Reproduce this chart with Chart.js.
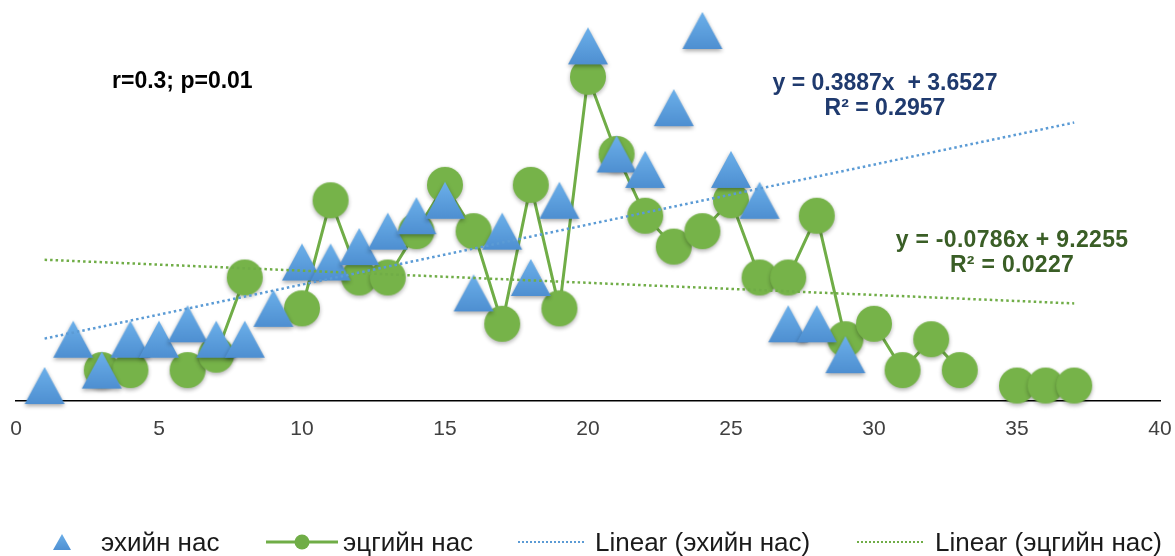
<!DOCTYPE html>
<html>
<head>
<meta charset="utf-8">
<script src="https://cdn.jsdelivr.net/npm/chart.js@4.4.1/dist/chart.umd.min.js"></script>
<style>
body{margin:0;background:#fff;font-family:"Liberation Sans",Arial,sans-serif}
#wrap{position:relative;width:1175px;height:556px;overflow:hidden}
#c{position:absolute;left:0;top:0}
.note{position:absolute;font-weight:bold;white-space:nowrap;font-size:23px;line-height:25px}
.eq{text-align:center;transform:translateX(-50%)}
.lg{position:absolute;top:527px;height:30px;line-height:30px;font-size:26px;color:#1a1a1a;white-space:nowrap}
.ico{position:absolute}
</style>
</head>
<body>
<div id="wrap">
  <canvas id="c" width="1175" height="556"></canvas>

  <div class="note" style="left:112px;top:68px;color:#000">r=0.3; p=0.01</div>
  <div class="note eq" style="left:885px;top:70px;color:#1f3a6e">y = 0.3887x&nbsp; + 3.6527<br>R² = 0.2957</div>
  <div class="note eq" style="left:1012px;top:227px;color:#3a5e26;letter-spacing:0.3px">y = -0.0786x + 9.2255<br>R² = 0.0227</div>

  <!-- legend -->
  <svg class="ico" style="left:52px;top:533px" width="20" height="18">
    <defs><linearGradient id="lgTri" x1="0" y1="0" x2="0" y2="1">
      <stop offset="0" stop-color="#6aaee8"/><stop offset="1" stop-color="#4f90d2"/></linearGradient></defs>
    <polygon points="10,1 19,17 1,17" fill="url(#lgTri)"/>
  </svg>
  <div class="lg" style="left:101px">эхийн нас</div>
  <svg class="ico" style="left:266px;top:533px" width="72" height="18">
    <line x1="0" y1="9" x2="72" y2="9" stroke="#70ad47" stroke-width="3"/>
    <circle cx="36" cy="9" r="7.5" fill="#70ad47"/>
  </svg>
  <div class="lg" style="left:343px">эцгийн нас</div>
  <svg class="ico" style="left:518px;top:533px" width="66" height="18">
    <line x1="0" y1="9" x2="66" y2="9" stroke="#5b9bd5" stroke-width="2" stroke-dasharray="2 2"/>
  </svg>
  <div class="lg" style="left:595px">Linear (эхийн нас)</div>
  <svg class="ico" style="left:857px;top:533px" width="66" height="18">
    <line x1="0" y1="9" x2="66" y2="9" stroke="#70ad47" stroke-width="2" stroke-dasharray="2 2"/>
  </svg>
  <div class="lg" style="left:935px">Linear (эцгийн нас)</div>
</div>

<script>
// x = 1..37, mother / father values (null = no point)
const xs = [1,2,3,4,5,6,7,8,9,10,11,12,13,14,15,16,17,18,19,20,21,22,23,24,25,26,27,28,29,30,31,32,33,34,35,36,37];
const motherVals = [1,4,2,4,4,5,4,4,6,9,9,10,11,12,13,7,11,8,13,23,16,15,19,24,15,13,5,5,3,null,null,null,null,null,null,null,null];
const fatherVals = [null,null,2,2,null,2,3,8,null,6,13,8,8,11,14,11,5,14,6,21,16,12,10,11,13,8,8,12,4,5,2,4,2,null,1,1,1];
const xTicksStep = 5;

const BLUE = '#5b9bd5', GREEN = '#70ad47';

function toPoints(vals) {
  return xs.map((x, i) => ({x: x, y: vals[i]}));
}

// least squares fit over the non-empty points, drawn across the whole x range
function trend(vals) {
  const pts = toPoints(vals).filter(p => p.y != null);
  const n = pts.length;
  const mx = pts.reduce((a,p)=>a+p.x,0)/n, my = pts.reduce((a,p)=>a+p.y,0)/n;
  let sxy=0, sxx=0;
  pts.forEach(p => { sxy += (p.x-mx)*(p.y-my); sxx += (p.x-mx)*(p.x-mx); });
  const b = sxy/sxx, a = my - b*mx;
  const x0 = xs[0], x1 = xs[xs.length-1];
  return [{x:x0, y:a+b*x0}, {x:x1, y:a+b*x1}];
}

function triangleImg() {
  const w = 40, h = 37, pad = 7;
  const cv = document.createElement('canvas');
  cv.width = w + pad*2; cv.height = h + pad*2;
  const ctx = cv.getContext('2d');
  const g = ctx.createLinearGradient(0, pad, 0, pad+h);
  g.addColorStop(0, '#6cb0ea'); g.addColorStop(1, '#4e8fd1');
  ctx.shadowColor = 'rgba(0,0,0,0.35)'; ctx.shadowBlur = 4; ctx.shadowOffsetY = 2;
  ctx.fillStyle = g;
  ctx.beginPath();
  ctx.moveTo(pad + w/2, pad);
  ctx.lineTo(pad + w, pad + h);
  ctx.lineTo(pad, pad + h);
  ctx.closePath();
  ctx.fill();
  return cv;
}

function circleImg() {
  const r = 18, pad = 7;
  const cv = document.createElement('canvas');
  cv.width = cv.height = r*2 + pad*2;
  const ctx = cv.getContext('2d');
  ctx.shadowColor = 'rgba(0,0,0,0.3)'; ctx.shadowBlur = 4; ctx.shadowOffsetY = 2;
  ctx.fillStyle = '#76b349';
  ctx.beginPath();
  ctx.arc(pad + r, pad + r, r, 0, Math.PI*2);
  ctx.fill();
  return cv;
}

Chart.defaults.font.family = '"Liberation Sans", Arial, sans-serif';

new Chart(document.getElementById('c'), {
  type: 'scatter',
  data: {
    datasets: [
      {
        label: 'Linear (эхийн нас)',
        data: trend(motherVals),
        showLine: true, pointRadius: 0,
        borderColor: BLUE, borderWidth: 2.5, borderDash: [2.5, 3],
        order: 1, clip: false,
      },
      {
        label: 'Linear (эцгийн нас)',
        data: trend(fatherVals),
        showLine: true, pointRadius: 0,
        borderColor: GREEN, borderWidth: 2.5, borderDash: [2.5, 3],
        order: 1, clip: false,
      },
      {
        label: 'эхийн нас',
        data: toPoints(motherVals),
        pointStyle: triangleImg(), pointRadius: 18,
        order: 2, clip: false,
      },
      {
        label: 'эцгийн нас',
        data: toPoints(fatherVals),
        showLine: true, spanGaps: false,
        borderColor: GREEN, borderWidth: 3,
        pointStyle: circleImg(), pointRadius: 18,
        order: 3, clip: false,
      },
    ]
  },
  options: {
    responsive: false,
    animation: false,
    layout: { autoPadding: false, padding: { left: 16, right: 15, top: 15, bottom: 0 } },
    plugins: { legend: { display: false }, tooltip: { enabled: false } },
    scales: {
      x: {
        type: 'linear', min: 0, max: 40,
        grid: { display: false, drawTicks: false },
        border: { display: true, color: '#000', width: 1.5 },
        ticks: { stepSize: xTicksStep, color: '#404040', font: { size: 21 }, padding: 16 },
        afterFit: s => { s.height = 155; s.paddingLeft = 0; s.paddingRight = 0; }
      },
      y: {
        display: false, min: 0, max: 25,
      }
    }
  }
});
</script>
</body>
</html>
